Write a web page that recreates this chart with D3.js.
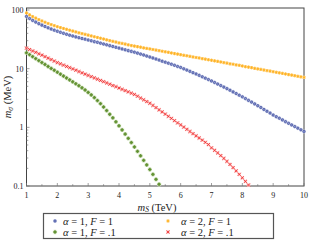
<!DOCTYPE html>
<html>
<head>
<meta charset="utf-8">
<script src="https://cdn.jsdelivr.net/npm/d3@7"></script>
<style>
  body { margin: 0; background: #fff; }
  text { font-family: "Liberation Serif", "DejaVu Serif", serif; fill: #222; }
</style>
</head>
<body>
<div id="chart"></div>
<script>
// m_S grid (TeV), one point every 0.1 TeV
var mS = [1.0,1.1,1.2,1.3,1.4,1.5,1.6,1.7,1.8,1.9,2.0,2.1,2.2,2.3,2.4,2.5,2.6,2.7,2.8,2.9,
	3.0,3.1,3.2,3.3,3.4,3.5,3.6,3.7,3.8,3.9,4.0,4.1,4.2,4.3,4.4,4.5,4.6,4.7,4.8,4.9,
	5.0,5.1,5.2,5.3,5.4,5.5,5.6,5.7,5.8,5.9,6.0,6.1,6.2,6.3,6.4,6.5,6.6,6.7,6.8,6.9,
	7.0,7.1,7.2,7.3,7.4,7.5,7.6,7.7,7.8,7.9,8.0,8.1,8.2,8.3,8.4,8.5,8.6,8.7,8.8,8.9,
	9.0,9.1,9.2,9.3,9.4,9.5,9.6,9.7,9.8,9.9,10.0];

// m_sigma (MeV)
var a1F1 = [77.6,71.6,66.5,62.2,58.5,55.2,52.4,49.7,47.4,45.3,43.4,41.6,40.0,38.5,37.2,36.0,34.8,33.7,32.7,31.8,
	30.8,29.9,28.9,28.1,27.2,26.3,25.5,24.7,23.9,23.1,22.4,21.7,21.0,20.3,19.7,19.1,18.4,17.7,17.1,16.4,
	15.8,15.2,14.6,14.0,13.4,12.9,12.4,11.9,11.4,10.9,10.5,9.95,9.46,9.00,8.55,8.13,7.69,7.28,6.89,6.52,
	6.17,5.81,5.47,5.15,4.85,4.57,4.29,4.02,3.77,3.53,3.31,3.09,2.88,2.69,2.51,2.34,2.18,2.02,1.88,1.75,
	1.62,1.52,1.43,1.34,1.25,1.17,1.10,1.03,0.968,0.908,0.851];

var a2F1 = [89.1,82.7,77.3,72.6,68.5,65.0,61.8,58.9,56.4,54.1,51.9,50.1,48.4,46.8,45.2,43.7,42.3,40.9,39.6,38.4,
	37.2,36.1,35.0,34.0,33.0,32.0,31.0,30.1,29.2,28.4,27.5,26.9,26.2,25.5,24.8,24.2,23.7,23.2,22.6,22.1,
	21.7,21.2,20.7,20.3,19.8,19.4,19.0,18.5,18.1,17.7,17.3,16.9,16.6,16.2,15.8,15.5,15.2,14.8,14.5,14.2,
	13.9,13.6,13.3,13.0,12.7,12.4,12.1,11.9,11.6,11.4,11.1,10.8,10.6,10.4,10.1,9.91,9.70,9.48,9.27,9.08,
	8.87,8.67,8.49,8.30,8.11,7.93,7.76,7.59,7.41,7.26,7.10];

var a1F01 = [18.6,17.3,16.0,14.8,13.7,12.7,11.8,10.9,10.1,9.40,8.71,8.07,7.48,6.93,6.43,5.96,5.52,5.11,4.71,4.33,
	3.94,3.57,3.21,2.86,2.53,2.22,1.93,1.67,1.45,1.24,1.06,0.904,0.767,0.650,0.550,0.463,0.390,0.327,0.274,0.229,
	0.191,0.158,0.130,0.107];

var a2F01 = [22.4,21.2,20.0,19.0,17.9,17.0,16.0,15.1,14.3,13.5,12.7,12.1,11.5,10.9,10.4,9.89,9.40,8.93,8.49,8.07,
	7.67,7.31,6.95,6.62,6.30,6.00,5.70,5.43,5.16,4.92,4.68,4.45,4.23,4.02,3.82,3.63,3.39,3.16,2.95,2.75,
	2.57,2.36,2.17,1.99,1.83,1.68,1.54,1.42,1.30,1.19,1.10,1.01,0.925,0.849,0.780,0.716,0.658,0.604,0.555,0.509,
	0.447,0.406,0.366,0.330,0.295,0.263,0.233,0.206,0.181,0.158,0.138,0.120,0.104];

var xTicks = [1,2,3,4,5,6,7,8,9,10];
var yTicks = [0.1,1,10,100];
var yTickLabels = ["0.1","1","10","100"];

var width = 312, height = 246;
var L = 26.5, R = 304, T = 8, B = 186;

var svg = d3.select("#chart").append("svg")
	.attr("width", width)
	.attr("height", height);

var x = d3.scaleLinear().domain([1, 10]).range([L, R]);
var y = d3.scaleLog().domain([0.1, 100]).range([B, 10]);

// frame
svg.append("rect")
	.attr("x", L).attr("y", T)
	.attr("width", R - L).attr("height", B - T)
	.style("fill", "none").style("stroke", "#444").style("stroke-width", 1);

// inward ticks, major + minor
var ticks = svg.append("g").style("stroke", "#777").style("stroke-width", 0.7);
var xMinor = d3.range(1.5, 10, 1);
xTicks.forEach(function(d) {
	ticks.append("line").attr("x1", x(d)).attr("x2", x(d)).attr("y1", B).attr("y2", B - 3);
});
xMinor.forEach(function(d) {
	ticks.append("line").attr("x1", x(d)).attr("x2", x(d)).attr("y1", B).attr("y2", B - 1.8);
});
yTicks.forEach(function(d) {
	ticks.append("line").attr("x1", L).attr("x2", L + 3).attr("y1", y(d)).attr("y2", y(d));
});
y.ticks().filter(function(d) { return yTicks.indexOf(d) < 0; }).forEach(function(d) {
	ticks.append("line").attr("x1", L).attr("x2", L + 1.8).attr("y1", y(d)).attr("y2", y(d));
});

// tick labels
svg.selectAll(".xlab").data(xTicks).enter().append("text")
	.attr("x", function(d) { return x(d); })
	.attr("y", 198)
	.style("font-size", "8px")
	.style("text-anchor", "middle")
	.text(function(d) { return d; });

svg.selectAll(".ylab").data(yTicks).enter().append("text")
	.attr("x", L - 3)
	.attr("y", function(d) { return y(d) + 3; })
	.style("font-size", "8px")
	.style("text-anchor", "end")
	.text(function(d, i) { return yTickLabels[i]; });

// axis titles
var xt = svg.append("text").attr("x", 157).attr("y", 210.5).style("font-size", "10.5px").style("text-anchor", "middle");
xt.append("tspan").style("font-style", "italic").text("m");
xt.append("tspan").attr("dy", 1.5).style("font-size", "7.5px").style("font-style", "italic").text("S");
xt.append("tspan").attr("dy", -1.5).text(" (TeV)");

var yt = svg.append("text").attr("transform", "translate(11,97) rotate(-90)").style("font-size", "10.5px").style("text-anchor", "middle");
yt.append("tspan").style("font-style", "italic").text("m");
yt.append("tspan").attr("dy", 1.5).style("font-size", "7.5px").style("font-style", "italic").text("σ");
yt.append("tspan").attr("dy", -1.5).text(" (MeV)");

// marker shapes
var sym = {
	circle: d3.symbol().type(d3.symbolCircle).size(4),
	star: d3.symbol().type(d3.symbolAsterisk).size(7),
	plus: d3.symbol().type(d3.symbolCross).size(3.5),
	times: d3.symbol().type(d3.symbolTimes).size(7)
};

var series = [
	{ vals: a1F1, color: "#3b4a9e", halo: "#c4cae6", shape: "circle", alpha: "1", F: "1" },
	{ vals: a2F1, color: "#ffae1a", halo: "#ffe2a8", shape: "star", alpha: "2", F: "1" },
	{ vals: a1F01, color: "#5f8f2e", halo: "#d2e3c0", shape: "plus", alpha: "1", F: ".1" },
	{ vals: a2F01, color: "#f02828", halo: "#fcc6c6", shape: "times", alpha: "2", F: ".1" }
];

var plot = svg.append("g");

function drawMark(g, s, cx, cy) {
	var p = sym[s.shape]();
	var open = s.shape === "star" || s.shape === "times";
	g.append("path").attr("d", p)
		.attr("transform", "translate(" + cx + "," + cy + ")")
		.style("fill", open ? "none" : s.halo)
		.style("stroke", s.halo).style("stroke-width", 1.8);
	g.append("path").attr("d", p)
		.attr("transform", "translate(" + cx + "," + cy + ")")
		.style("fill", s.shape === "circle" ? "#8f98cc" : (open ? "none" : s.color))
		.style("stroke", s.color).style("stroke-width", s.shape === "circle" ? 0.7 : 0.8);
}

series.forEach(function(s) {
	var g = plot.append("g");
	s.vals.forEach(function(v, i) {
		drawMark(g, s, x(mS[i]), y(v));
	});
});

// legend
svg.append("rect")
	.attr("x", 43.5).attr("y", 213.5).attr("width", 230).attr("height", 25)
	.style("fill", "#fff").style("stroke", "#555").style("stroke-width", 1.2);

var legPos = [[55, 63, 221], [168, 181, 221], [55, 63, 232], [168, 181, 232]];
series.forEach(function(s, i) {
	var p = legPos[i];
	var lg = svg.append("g");
	drawMark(lg, s, p[0], p[2]);
	var t = lg.append("text").attr("x", p[1]).attr("y", p[2] + 3.5).style("font-size", "10.5px");
	t.append("tspan").style("font-style", "italic").text("α");
	t.append("tspan").text(" = " + s.alpha + ", ");
	t.append("tspan").style("font-style", "italic").text("F");
	t.append("tspan").text(" = " + s.F);
});
</script>
</body>
</html>
